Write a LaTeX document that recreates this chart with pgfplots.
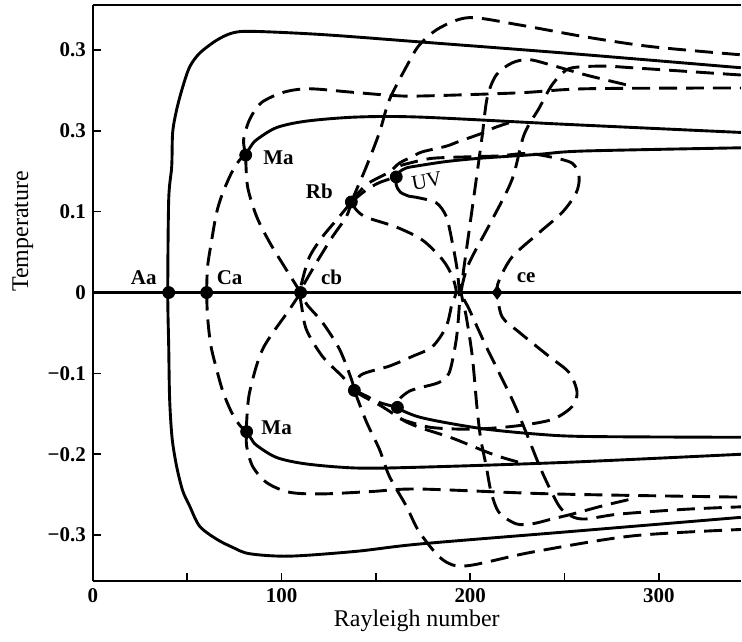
\documentclass[border=0pt]{standalone}
\usepackage{pgfplots}
\pgfplotsset{compat=1.18}
\usepackage{fontspec}
\setmainfont{Liberation Serif}

\pgfplotsset{
  sol/.style={black, line width=1.45pt, smooth, tension=0.5, mark=none},
  das/.style={sol, dash pattern=on 9pt off 4.5pt},
}

\begin{document}
\begin{tikzpicture}
\begin{axis}[
  name=ax,
  scale only axis,
  width=324.5pt, height=288.5pt,
  xmin=0, xmax=343.4, ymin=-0.3568, ymax=0.3556,
  axis lines*=left,
  axis line style={-, line width=1.2pt},
  tick align=inside,
  tick pos=left,
  xtick={0,100,200,300},
  xticklabels={0,100,200,300},
  minor xtick={50,150,250},
  ytick={-0.3,-0.2,-0.1,0,0.1,0.2,0.3},
  yticklabels={−0.3,−0.2,−0.1,0,0.1,0.3,0.3},
  major tick length=4pt, minor tick length=4pt,
  every tick/.style={black, line width=0.8pt},
  tick label style={font=\fontsize{10.5}{12}\selectfont\bfseries},
  xlabel={Rayleigh number}, ylabel={Temperature},
  label style={font=\fontsize{12}{14}\selectfont},
  xlabel style={at={(axis description cs:0.5,0)}, anchor=center, yshift=-20pt},
  ylabel style={at={(axis description cs:-0.108,0.607)}, anchor=center},
  clip=true,
]
% trivial branch
\addplot[sol, smooth=false] coordinates {(0,0) (343.4,0)};

% outer stable branch through Aa
\addplot[sol] coordinates {
 (343.4,0.278) (250.8,0.296) (173,0.310) (121.7,0.319) (84.7,0.323) (74,0.321)
 (65.6,0.312) (56.6,0.296) (51.3,0.279) (47.6,0.254) (44.4,0.226) (42.3,0.198)
 (41.8,0.156) (40.2,0.115) (39.7,0) (40.2,-0.066) (40.7,-0.132) (42,-0.180)
 (44.4,-0.215) (47.6,-0.245) (51.3,-0.264) (56.6,-0.289) (65.6,-0.305) (74,-0.315)
 (83.1,-0.323) (104.2,-0.326) (139.7,-0.320) (173,-0.311) (250.8,-0.296) (343.4,-0.278)};

% branches from Ma
\addplot[sol] coordinates {(81,0.170) (83.5,0.180) (86.8,0.189) (97.4,0.204) (113.2,0.212)
 (139.7,0.217) (173,0.217) (250.8,0.208) (343.4,0.198)};
\addplot[sol] coordinates {(81.5,-0.172) (84,-0.181) (86.8,-0.189) (97.4,-0.204) (113.2,-0.212)
 (139.7,-0.217) (173,-0.216) (250.8,-0.210) (343.4,-0.200)};

% branches from UV
\addplot[sol] coordinates {(160.8,0.143) (162.4,0.149) (166,0.154) (173,0.157) (187.3,0.162)
 (204.8,0.166) (236.5,0.171) (260,0.175) (343.4,0.179)};
\addplot[sol] coordinates {(160.8,0.143) (160.8,0.133) (163,0.124) (167.7,0.119)};
\addplot[sol] coordinates {(161.4,-0.142) (165,-0.147) (173,-0.154) (187.3,-0.161)
 (208.5,-0.169) (235,-0.175) (261.4,-0.178) (343.4,-0.179)};

% unstable branches
% Ca -> Ma
\addplot[das] coordinates {(60.3,0) (60.8,0.032) (63,0.065) (65.6,0.099) (68.8,0.123)
 (73.5,0.148) (77.8,0.164) (81,0.170)};
\addplot[das] coordinates {(60.3,0) (60.8,-0.030) (62.5,-0.065) (65.6,-0.095) (69,-0.123)
 (73.5,-0.148) (77.8,-0.164) (81.5,-0.172)};
% Ma -> right
\addplot[das] coordinates {(81,0.170) (79.9,0.189) (83.1,0.214) (89.4,0.235) (101.6,0.248)
 (114.8,0.252) (136,0.248) (157.1,0.244) (173,0.243) (226,0.247) (261.4,0.252) (343.4,0.253)};
\addplot[das] coordinates {(81.5,-0.172) (81.5,-0.190) (84.7,-0.215) (92.1,-0.235) (104.2,-0.247)
 (121.7,-0.249) (148.1,-0.246) (173,-0.243) (243.4,-0.249) (343.4,-0.253)};
% Ma -> cb -> Rb
\addplot[das] coordinates {(81,0.170) (82,0.131) (86.8,0.094) (93.7,0.062) (102.6,0.028)
 (110.1,0) (113.5,-0.015) (121.7,-0.037) (130.7,-0.070) (137,-0.107) (138.6,-0.121)};
\addplot[das] coordinates {(81.5,-0.172) (81.5,-0.160) (83.1,-0.123) (90,-0.070) (104.2,-0.021)
 (110.1,0) (111.1,0.007) (118.5,0.037) (127,0.069) (134.4,0.094) (137,0.112)};
\addplot[das] coordinates {(137,0.112) (130.7,0.094) (121.7,0.069) (114.8,0.044) (111,0.015)
 (109.8,0) (110.5,-0.015) (113.2,-0.046) (121.7,-0.079) (132.3,-0.104) (138.6,-0.121)};
% Rb -> outer loops
\addplot[das] coordinates {(137,0.112) (139.7,0.127) (145,0.156) (151.9,0.198) (157.1,0.238)
 (166.1,0.279) (173,0.306) (183.6,0.327) (199.5,0.340) (225.9,0.331) (261.4,0.316)
 (296.3,0.304) (343.4,0.294)};
\addplot[das] coordinates {(138.6,-0.121) (139.7,-0.128) (145,-0.160) (151.9,-0.194) (157.1,-0.227)
 (166.1,-0.264) (173,-0.296) (185.2,-0.330) (197.9,-0.338) (232.8,-0.321) (285.7,-0.301)
 (343.4,-0.293)};
% Rb -> UV
\addplot[das] coordinates {(137,0.112) (145,0.127) (151.9,0.136) (160.8,0.143)};
\addplot[das] coordinates {(138.6,-0.121) (145,-0.128) (151.9,-0.136) (161.4,-0.142)};
% Rb -> Ma branch
\addplot[das] coordinates {(137,0.112) (141,0.124) (146.6,0.136) (157.1,0.149) (162.4,0.160)
 (169.3,0.168) (174.6,0.174) (187.3,0.181) (194.2,0.187) (206.3,0.197) (213,0.204) (220.6,0.210)};
\addplot[das] coordinates {(138.6,-0.121) (143,-0.128) (151.9,-0.139) (160,-0.151) (166.1,-0.160)
 (174.6,-0.168) (190.5,-0.180) (208.5,-0.197) (217,-0.204) (225.9,-0.210)};
% Rb -> crossing -> Rb
\addplot[das] coordinates {(137,0.112) (139.7,0.102) (145,0.093) (160.8,0.081) (174.6,0.065)
 (185.2,0.041) (190.5,0.020) (192.6,0) (190.5,-0.012) (187.3,-0.042) (179.9,-0.067)
 (169.3,-0.079) (157.1,-0.091) (142,-0.102) (138.6,-0.121)};
% UV -> crossing -> UV
\addplot[das] coordinates {(167.7,0.119) (173,0.117) (182,0.111) (187.3,0.094) (190.5,0.062)
 (193.1,0.028) (194.2,0) (194.2,-0.017) (192.6,-0.058) (188.9,-0.099) (183.6,-0.111)
 (174.6,-0.117) (167.7,-0.122) (162.4,-0.132) (161.4,-0.142)};
% steep branches through the crossing
\addplot[das] coordinates {(282.5,0.257) (261.4,0.269) (243.4,0.281) (231.2,0.288) (222.2,0.284)
 (213.8,0.269) (209,0.241) (206.3,0.193) (203.2,0.140) (199.5,0.078) (195.8,0.016) (195.2,0)
 (197.9,-0.030) (201.1,-0.079) (203.5,-0.140) (205.5,-0.180) (208.5,-0.215) (211.1,-0.247)
 (215.3,-0.272) (224.3,-0.286) (232.8,-0.286) (243.4,-0.280) (254,-0.274) (269.8,-0.264)
 (284.1,-0.256)};
\addplot[das] coordinates {(343.4,0.269) (285.7,0.278) (272,0.280) (257.7,0.279) (250.8,0.275)
 (243.4,0.257) (236.5,0.228) (228.5,0.195) (222.2,0.140) (211.6,0.090) (199.5,0.037)
 (195.6,0.007) (196,-0.005) (199.5,-0.021) (208.5,-0.067) (222.2,-0.132) (229.6,-0.173)
 (238.1,-0.222) (247.1,-0.264) (254,-0.277) (261.4,-0.280) (278.8,-0.274) (314.3,-0.268)
 (343.4,-0.265)};
% loop through ce
\addplot[das] coordinates {(163,0.157) (167.7,0.160) (179.9,0.166) (201.1,0.168) (215.3,0.169)
 (229.6,0.172) (241.8,0.168) (254,0.160) (257.7,0.143) (256.1,0.123) (248.7,0.099)
 (236.5,0.074) (222.2,0.044) (215.3,0.015) (214.3,0) (216.9,-0.030) (225.9,-0.049)
 (241.8,-0.079) (252.4,-0.099) (256.6,-0.123) (254,-0.141) (243.4,-0.157) (224.3,-0.165)
 (201.1,-0.169) (179.9,-0.167) (167.7,-0.160) (163,-0.156)};

% bifurcation points
\addplot[only marks, mark=*, mark size=3pt, black] coordinates {
 (40.2,0) (60.3,0) (110.1,0) (81,0.170) (81.5,-0.172) (137,0.112) (160.8,0.143)
 (138.6,-0.121) (161.4,-0.142)};
\addplot[only marks, mark=diamond*, mark size=3.3pt, black] coordinates {(214.3,0)};

\begin{scope}[font=\fontsize{10.5}{12}\selectfont\bfseries]
\node at (axis cs:27,0.0185) {Aa};
\node at (axis cs:72.5,0.0185) {Ca};
\node at (axis cs:126.5,0.0185) {cb};
\node at (axis cs:229.6,0.0185) {ce};
\node at (axis cs:98.4,0.167) {Ma};
\node at (axis cs:97.4,-0.167) {Ma};
\node at (axis cs:120,0.125) {Rb};
\end{scope}
\node[font=\fontsize{10.5}{12}\selectfont, rotate=10, inner sep=0pt] at (axis cs:177,0.138) {UV};
\end{axis}
\draw[line width=1.2pt] (ax.north west) -- (ax.north east);
\path (ax.south west) ++(-46.5pt,-30.5pt);
\path (ax.north east) ++(0,2.5pt);
\end{tikzpicture}
\end{document}
